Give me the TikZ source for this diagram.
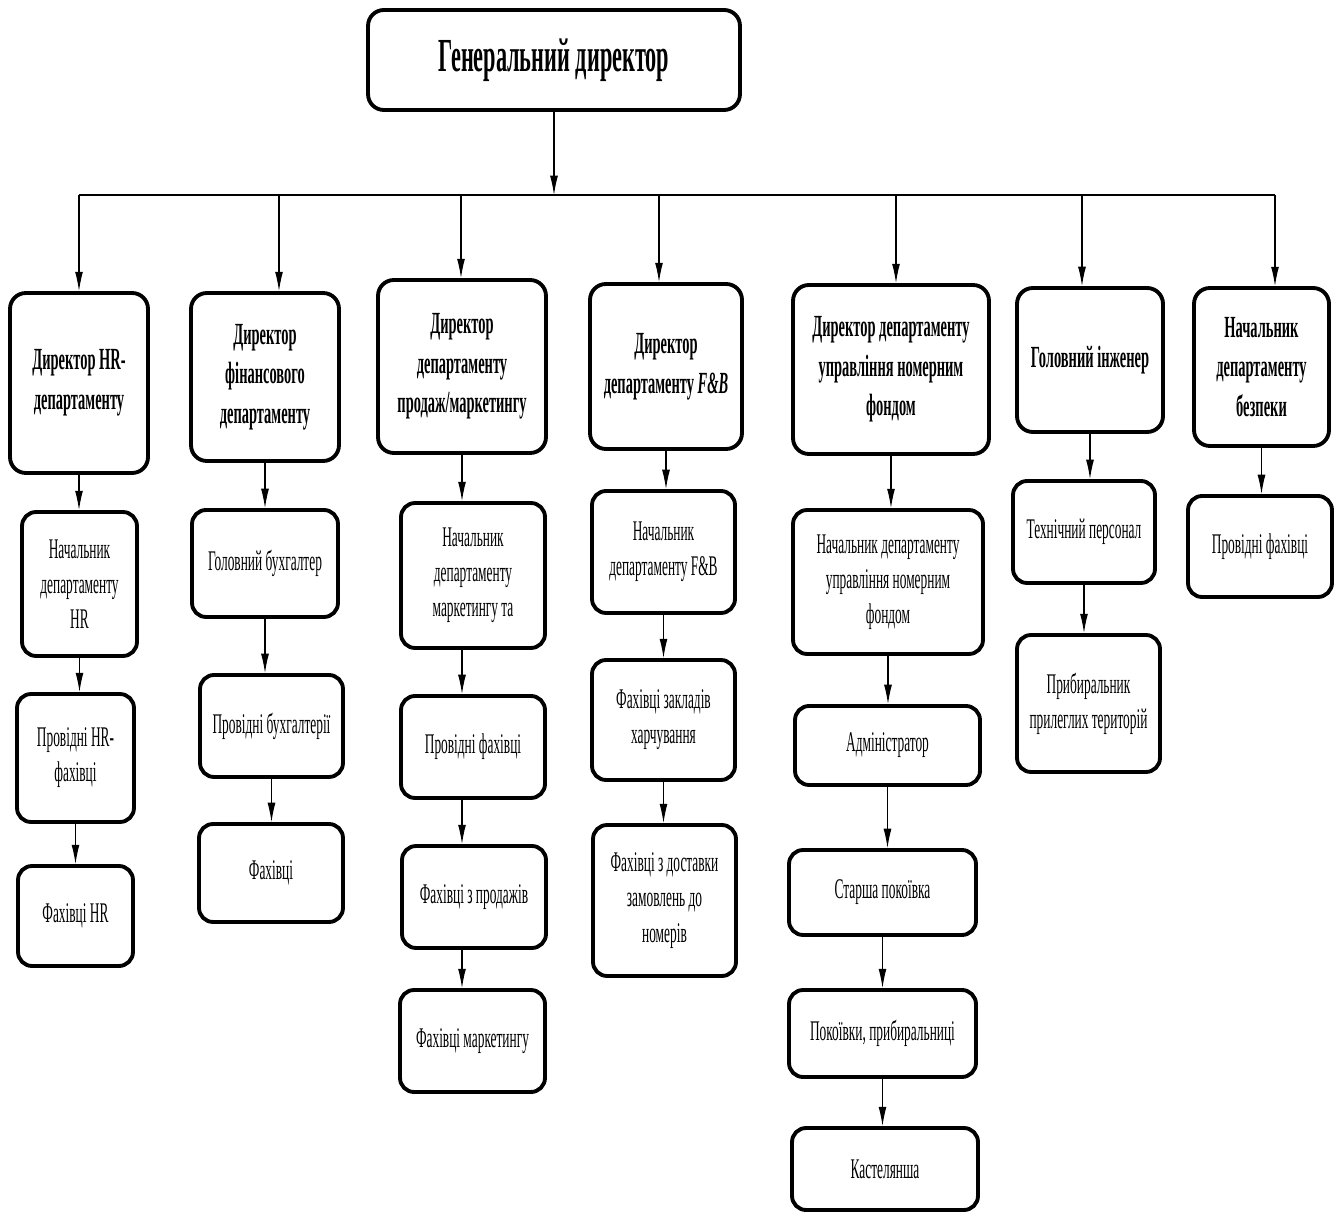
\documentclass[tikz,border=0pt]{standalone}
\usepackage{fontspec}
\setmainfont[FakeStretch=0.47]{Liberation Serif}
\usepackage{tikz}
\usetikzlibrary{shapes,arrows.meta,positioning,calc}
\tikzstyle{chief}   =[rectangle, draw=black, line width=2.2pt, rounded corners=9pt,
                      align=center, font=\fontsize{27}{31}\selectfont\bfseries]
\tikzstyle{director}=[rectangle, draw=black, line width=2.2pt, rounded corners=9pt,
                      align=center, inner sep=2pt, font=\fontsize{17.5}{22.5}\selectfont\bfseries]
\tikzstyle{staff}   =[rectangle, draw=black, line width=2.2pt, rounded corners=8pt,
                      align=center, inner sep=2pt, font=\fontsize{16.2}{20}\selectfont]
\tikzstyle{arr}     =[-{Latex[length=11pt,width=4.5pt]}, line width=0.6pt]
\tikzstyle{bus}     =[line width=1.2pt]

\begin{document}
\begin{tikzpicture}[x=0.02cm, y=-0.02cm]
  \useasboundingbox (0,0) rectangle (1336,1212);

  % ── top ─────────────────────────────────────────────────────────────────────
  \node[chief, minimum width=7.44cm, minimum height=2.0cm] (gen) at (554,60) {Генеральний директор};

  % ── directors ───────────────────────────────────────────────────────────────
  \node[director, minimum width=2.76cm, minimum height=3.6cm]  (hrdir)   at (79,383)    {Директор HR-\\департаменту};
  \node[director, minimum width=2.96cm, minimum height=3.36cm] (findir)  at (265,377)   {Директор\\фінансового\\департаменту};
  \node[director, minimum width=3.36cm, minimum height=3.46cm] (saledir) at (462,366.5) {Директор\\департаменту\\продаж/маркетингу};
  \node[director, minimum width=3.04cm, minimum height=3.3cm]  (fbdir)   at (666,366.5) {Директор\\департаменту \textit{F\&B}};
  \node[director, minimum width=3.92cm, minimum height=3.38cm] (roomdir) at (891,369.5) {Директор департаменту\\управління номерним\\фондом};
  \node[director, minimum width=2.92cm, minimum height=2.88cm] (engdir)  at (1090,360)  {Головний інженер};
  \node[director, minimum width=2.7cm,  minimum height=3.16cm] (secdir)  at (1261.5,367) {Начальник\\департаменту\\безпеки};

  % ── HR column ───────────────────────────────────────────────────────────────
  \node[staff, minimum width=2.3cm,  minimum height=2.88cm] (hrhead) at (79.5,584) {Начальник\\департаменту\\HR};
  \node[staff, minimum width=2.34cm, minimum height=2.56cm] (hrlead) at (75.5,758) {Провідні HR-\\фахівці};
  \node[staff, minimum width=2.3cm,  minimum height=2.0cm]  (hrspec) at (75.5,916) {Фахівці HR};

  % ── finance column ──────────────────────────────────────────────────────────
  \node[staff, minimum width=2.92cm, minimum height=2.14cm] (accchief) at (265,563.5) {Головний бухгалтер};
  \node[staff, minimum width=2.86cm, minimum height=2.04cm] (acclead)  at (271.5,726) {Провідні бухгалтерії};
  \node[staff, minimum width=2.88cm, minimum height=1.96cm] (accspec)  at (271,873)   {Фахівці};

  % ── sales / marketing column ────────────────────────────────────────────────
  \node[staff, minimum width=2.88cm, minimum height=2.9cm]  (mkthead)  at (473,575.5) {Начальник\\департаменту\\маркетингу та};
  \node[staff, minimum width=2.88cm, minimum height=2.04cm] (mktlead)  at (473,747)   {Провідні фахівці};
  \node[staff, minimum width=2.88cm, minimum height=2.04cm] (mktsales) at (474,897)   {Фахівці з продажів};
  \node[staff, minimum width=2.9cm,  minimum height=2.04cm] (mktspec)  at (472.5,1041) {Фахівці маркетингу};

  % ── F&B column ──────────────────────────────────────────────────────────────
  \node[staff, minimum width=2.86cm, minimum height=2.44cm] (fbhead)  at (663.5,552)   {Начальник\\департаменту F\&B};
  \node[staff, minimum width=2.86cm, minimum height=2.4cm]  (fbcater) at (663.5,720)   {Фахівці закладів\\харчування};
  \node[staff, minimum width=2.86cm, minimum height=3.02cm] (fbdeliv) at (664.5,900.5) {Фахівці з доставки\\замовлень до\\номерів};

  % ── rooms division column ───────────────────────────────────────────────────
  \node[staff, minimum width=3.8cm,  minimum height=2.88cm] (rmhead)   at (888,582)    {Начальник департаменту\\управління номерним\\фондом};
  \node[staff, minimum width=3.7cm,  minimum height=1.58cm] (rmadmin)  at (887.5,745.5) {Адміністратор};
  \node[staff, minimum width=3.74cm, minimum height=1.7cm]  (rmsenior) at (882.5,892.5) {Старша покоївка};
  \node[staff, minimum width=3.74cm, minimum height=1.74cm] (rmmaids)  at (882.5,1033.5) {Покоївки, прибиральниці};
  \node[staff, minimum width=3.72cm, minimum height=1.64cm] (rmlinen)  at (885,1169)   {Кастелянша};

  % ── engineering and security ────────────────────────────────────────────────
  \node[staff, minimum width=2.84cm, minimum height=2.04cm] (engtech) at (1084,532)    {Технічний персонал};
  \node[staff, minimum width=2.86cm, minimum height=2.74cm] (engyard) at (1088.5,703.5) {Прибиральник\\прилеглих територій};
  \node[staff, minimum width=2.88cm, minimum height=2.02cm] (secspec) at (1260,546.5)  {Провідні фахівці};

  % ── bus under the general director ──────────────────────────────────────────
  \coordinate (bus) at (554,195);
  \coordinate (t1) at (79,195);
  \coordinate (t2) at (279,195);
  \coordinate (t3) at (461,195);
  \coordinate (t4) at (659,195);
  \coordinate (t5) at (896,195);
  \coordinate (t6) at (1082,195);
  \coordinate (t7) at (1275,195);
  \draw[bus] (t1) -- (t7);
  \draw[arr] (gen.south) -- (bus);
  \foreach \t/\d in {t1/hrdir, t2/findir, t3/saledir, t4/fbdir, t5/roomdir, t6/engdir, t7/secdir}
    \draw[arr] (\t) -- (\t |- \d.north);

  % ── down each column ────────────────────────────────────────────────────────
  \foreach \a/\b in {hrdir/hrhead, hrhead/hrlead, hrlead/hrspec,
                     findir/accchief, accchief/acclead, acclead/accspec,
                     fbdir/fbhead, fbhead/fbcater, fbcater/fbdeliv,
                     roomdir/rmhead, rmhead/rmadmin, rmadmin/rmsenior, rmsenior/rmmaids, rmmaids/rmlinen,
                     engdir/engtech, engtech/engyard, secdir/secspec}
    \draw[arr] (\a.south) -- (\a.south |- \b.north);
  \foreach \a/\b in {saledir/mkthead, mkthead/mktlead, mktlead/mktsales, mktsales/mktspec}
    \draw[arr] (\a.south -| saledir.south) -- (saledir.south |- \b.north);

\end{tikzpicture}
\end{document}
